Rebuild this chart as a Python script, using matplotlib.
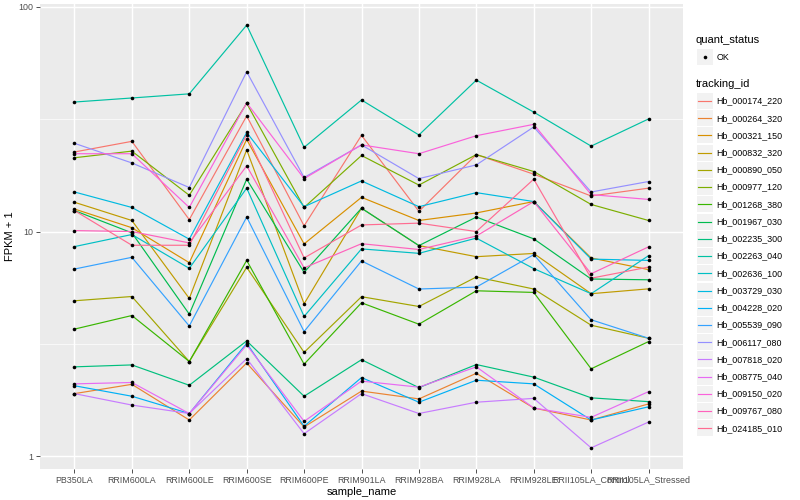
import numpy as np
import matplotlib
matplotlib.use("Agg")
import matplotlib.pyplot as plt
from matplotlib.lines import Line2D
from matplotlib.patches import Rectangle
from matplotlib.ticker import FixedLocator, NullFormatter

plt.rcParams['font.family'] = ['Liberation Sans', 'DejaVu Sans']

# ---------------- data (FPKM + 1) ----------------
samples = ["PB350LA", "RRIM600LA", "RRIM600LE", "RRIM600SE", "RRIM600PE",
           "RRIM901LA", "RRIM928BA", "RRIM928LA", "RRIM928LE",
           "RRII105LA_Control", "RRII105LA_Stressed"]

tracking_ids = ["Hb_000174_220", "Hb_000264_320", "Hb_000321_150", "Hb_000832_320",
                "Hb_000890_050", "Hb_000977_120", "Hb_001268_380", "Hb_001967_030",
                "Hb_002235_300", "Hb_002263_040", "Hb_002636_100", "Hb_003729_030",
                "Hb_004228_020", "Hb_005539_090", "Hb_006117_080", "Hb_007818_020",
                "Hb_008775_040", "Hb_009150_020", "Hb_009767_080", "Hb_024185_010"]

Hb_000174_220 = [22.6, 25.2, 11.3, 32.7, 10.6, 26.8, 12.3, 22.0, 18.0, 14.4, 15.6]
Hb_000264_320 = [1.90, 2.09, 1.45, 2.60, 1.35, 1.95, 1.80, 2.34, 1.64, 1.45, 1.71]
Hb_000321_150 = [12.6, 10.4, 7.27, 25.7, 8.81, 14.2, 11.2, 12.1, 13.6, 7.63, 6.77]
Hb_000832_320 = [13.5, 11.2, 5.04, 23.1, 4.77, 12.7, 8.66, 7.73, 7.99, 5.29, 5.56]
Hb_000890_050 = [4.92, 5.14, 2.64, 6.93, 2.90, 5.13, 4.64, 6.28, 5.55, 3.83, 3.35]
Hb_000977_120 = [21.3, 22.8, 14.5, 37.2, 12.8, 21.8, 16.1, 22.0, 18.5, 13.2, 11.2]
Hb_001268_380 = [3.68, 4.23, 2.64, 7.44, 2.57, 4.82, 3.87, 5.45, 5.36, 2.45, 3.24]
Hb_001967_030 = [12.4, 9.87, 4.29, 17.1, 6.58, 12.7, 8.66, 11.6, 9.28, 6.15, 6.10]
Hb_002235_300 = [2.50, 2.55, 2.07, 3.26, 1.85, 2.69, 2.02, 2.56, 2.25, 1.82, 1.75]
Hb_002263_040 = [37.7, 39.3, 41.0, 82.9, 23.7, 38.5, 26.9, 47.2, 34.0, 24.0, 31.7]
Hb_002636_100 = [8.57, 9.70, 6.86, 15.6, 4.19, 8.37, 8.00, 9.35, 6.84, 5.29, 7.81]
Hb_003729_030 = [15.0, 12.8, 9.25, 27.6, 12.9, 16.8, 12.9, 14.9, 13.6, 7.54, 7.44]
Hb_004228_020 = [2.06, 1.85, 1.55, 3.18, 1.36, 2.24, 1.74, 2.18, 2.10, 1.45, 1.66]
Hb_005539_090 = [6.81, 7.68, 3.80, 11.6, 3.59, 7.40, 5.55, 5.66, 7.89, 4.05, 3.35]
Hb_006117_080 = [24.7, 20.2, 15.7, 51.4, 17.4, 24.3, 17.2, 19.8, 29.2, 15.0, 16.7]
Hb_007818_020 = [1.90, 1.69, 1.55, 2.72, 1.26, 1.90, 1.55, 1.74, 1.81, 1.09, 1.42]
Hb_008775_040 = [2.10, 2.13, 1.55, 3.13, 1.43, 2.16, 2.03, 2.50, 1.64, 1.49, 1.94]
Hb_009150_020 = [22.2, 22.2, 12.8, 37.4, 17.2, 24.3, 22.2, 26.7, 30.0, 14.6, 13.9]
Hb_009767_080 = [10.1, 10.0, 8.90, 19.6, 6.89, 8.83, 8.32, 9.55, 13.6, 6.49, 8.55]
Hb_024185_010 = [12.4, 8.69, 8.69, 27.0, 7.63, 10.7, 10.9, 10.0, 17.1, 6.20, 6.95]

series = [Hb_000174_220, Hb_000264_320, Hb_000321_150, Hb_000832_320, Hb_000890_050,
          Hb_000977_120, Hb_001268_380, Hb_001967_030, Hb_002235_300, Hb_002263_040,
          Hb_002636_100, Hb_003729_030, Hb_004228_020, Hb_005539_090, Hb_006117_080,
          Hb_007818_020, Hb_008775_040, Hb_009150_020, Hb_009767_080, Hb_024185_010]

quant_status = ["OK"]

# ggplot2 default hue palette for 20 levels
colors = ["#F8766D", "#EA8331", "#D89000", "#C09B00", "#A3A500", "#7CAE00", "#39B600",
          "#00BB4E", "#00BF7D", "#00C1A3", "#00BFC4", "#00BAE0", "#00B0F6", "#35A2FF",
          "#9590FF", "#C77CFF", "#E76BF3", "#FA62DB", "#FF62BC", "#FF6C91"]

# ---------------- figure ----------------
W, H = 800, 500
fig = plt.figure(figsize=(8, 5), dpi=100)
fig.patch.set_facecolor("white")
L, R, T, B = 40, 683, 4, 469
ax = fig.add_axes([L / W, 1 - B / H, (R - L) / W, (B - T) / H])
ax.set_facecolor("#EBEBEB")
for s in ax.spines.values():
    s.set_visible(False)

x = np.arange(len(samples))
ax.set_yscale("log")
for vals, col in zip(series, colors):
    ax.plot(x, vals, color=col, lw=0.85, zorder=3, solid_capstyle="butt")
for vals in series:
    ax.plot(x, vals, ls="none", marker="o", ms=2.6, color="black", mec="black",
            mew=0, zorder=4)

allv = np.concatenate([np.asarray(v, float) for v in series])
llo, lhi = np.log10(allv.min()), np.log10(allv.max())
pad = 0.05 * (lhi - llo)
ax.set_ylim(10 ** (llo - pad), 10 ** (lhi + pad))
ax.set_xlim(-0.6, len(samples) - 0.4)

ax.set_yticks([1, 10, 100])
ax.set_yticklabels(["1", "10", "100"])
ax.yaxis.set_minor_locator(FixedLocator([10 ** 0.5, 10 ** 1.5]))
ax.yaxis.set_minor_formatter(NullFormatter())
ax.set_xticks(x)
ax.set_xticklabels(samples)
ax.tick_params(axis="both", which="major", length=2.8, width=0.6, color="#333333",
               labelsize=6.4, labelcolor="#4D4D4D", pad=2)
ax.tick_params(axis="y", which="minor", length=0)
ax.grid(which="major", color="white", lw=1.05, zorder=0)
ax.grid(which="minor", axis="y", color="white", lw=0.5, zorder=0)
ax.set_axisbelow(True)

ax.set_xlabel("sample_name", fontsize=8, color="black", labelpad=1.5)
ax.set_ylabel("FPKM + 1", fontsize=8, color="black", labelpad=2.5)

# ---------------- legends ----------------
def fx(px):
    return px / W

def fy(py):
    return 1 - py / H

key_bg = "#F2F2F2"
kx0, kw, kh = 696.7, 16, 16

fig.text(fx(696), fy(40), "quant_status", fontsize=8, ha="left", va="center")
for i, q in enumerate(quant_status):
    cy = 57 + i * 17.23
    fig.add_artist(Rectangle((fx(kx0), fy(cy + kh / 2)), kw / W, kh / H,
                             transform=fig.transFigure, facecolor=key_bg,
                             edgecolor="none"))
    fig.add_artist(Line2D([fx(kx0 + kw / 2)], [fy(cy)], transform=fig.transFigure,
                          marker="o", ms=2.6, color="black", mew=0, ls="none"))
    fig.text(fx(716.7), fy(cy), q, fontsize=6.4, ha="left", va="center")

fig.text(fx(696), fy(84), "tracking_id", fontsize=8, ha="left", va="center")
for i, (name, col) in enumerate(zip(tracking_ids, colors)):
    cy = 101 + i * 17.23
    fig.add_artist(Rectangle((fx(kx0), fy(cy + kh / 2)), kw / W, kh / H,
                             transform=fig.transFigure, facecolor=key_bg,
                             edgecolor="none"))
    fig.add_artist(Line2D([fx(kx0 + 1.5), fx(kx0 + kw - 1.5)], [fy(cy), fy(cy)],
                          transform=fig.transFigure, color=col, lw=0.85))
    fig.text(fx(716.7), fy(cy), name, fontsize=6.4, ha="left", va="center")

fig.savefig("out.png", dpi=100)
